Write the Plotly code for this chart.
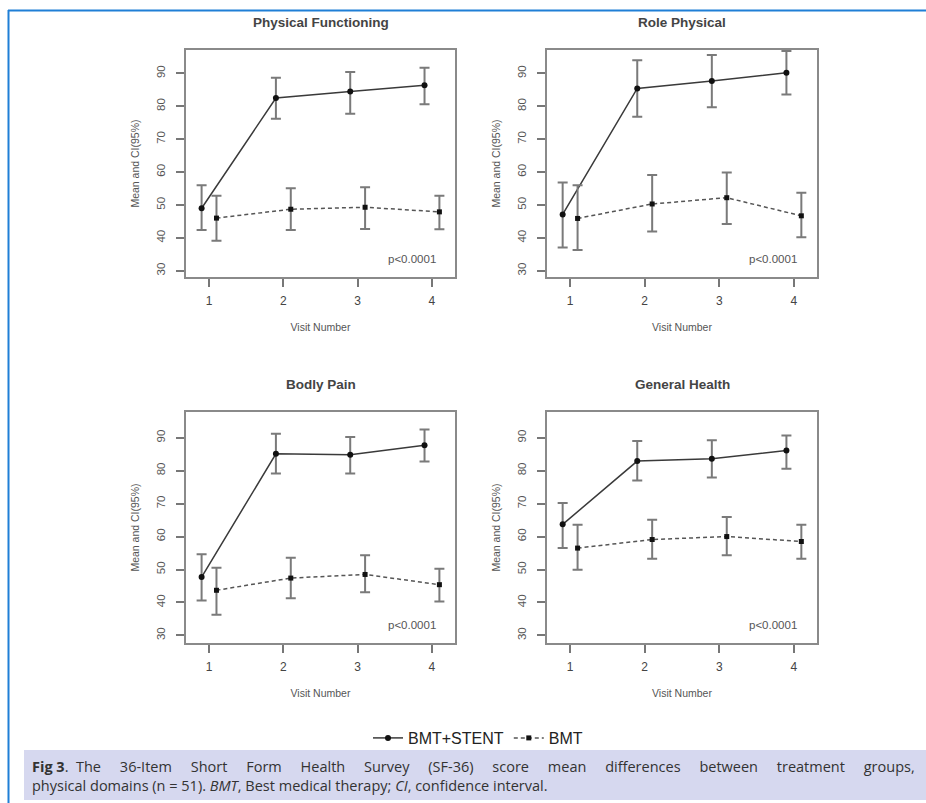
import plotly.graph_objects as go

W, H = 926, 803

visits = [1, 2, 3, 4]
panel_titles = ["Physical Functioning", "Role Physical", "Bodly Pain", "General Health"]
y_ticks = [30, 40, 50, 60, 70, 80, 90]
series_names = ["BMT+STENT", "BMT"]
p_label = "p<0.0001"

# Physical Functioning
pf_stent_mean = [49.0, 82.5, 84.5, 86.4]
pf_stent_lo = [42.4, 76.2, 77.7, 80.6]
pf_stent_hi = [56.0, 88.7, 90.4, 91.7]
pf_bmt_mean = [46.0, 48.7, 49.3, 47.9]
pf_bmt_lo = [39.1, 42.4, 42.7, 42.6]
pf_bmt_hi = [52.8, 55.1, 55.4, 52.8]

# Role Physical
rp_stent_mean = [47.1, 85.4, 87.7, 90.2]
rp_stent_lo = [37.1, 76.8, 79.7, 83.6]
rp_stent_hi = [56.8, 94.0, 95.6, 96.8]
rp_bmt_mean = [45.9, 50.3, 52.2, 46.7]
rp_bmt_lo = [36.3, 41.9, 44.2, 40.2]
rp_bmt_hi = [56.0, 59.1, 59.9, 53.7]

# Bodly Pain
bp_stent_mean = [47.7, 85.1, 84.8, 87.7]
bp_stent_lo = [40.6, 79.1, 79.1, 82.8]
bp_stent_hi = [54.6, 91.2, 90.2, 92.5]
bp_bmt_mean = [43.7, 47.4, 48.5, 45.4]
bp_bmt_lo = [36.3, 41.3, 43.1, 40.3]
bp_bmt_hi = [50.5, 53.6, 54.3, 50.2]

# General Health
gh_stent_mean = [63.7, 82.9, 83.6, 86.1]
gh_stent_lo = [56.5, 77.0, 77.9, 80.6]
gh_stent_hi = [70.2, 89.0, 89.2, 90.7]
gh_bmt_mean = [56.5, 59.1, 60.0, 58.5]
gh_bmt_lo = [49.9, 53.3, 54.3, 53.3]
gh_bmt_hi = [63.6, 65.1, 65.9, 63.6]

panels = [
    (pf_stent_mean, pf_stent_lo, pf_stent_hi, pf_bmt_mean, pf_bmt_lo, pf_bmt_hi),
    (rp_stent_mean, rp_stent_lo, rp_stent_hi, rp_bmt_mean, rp_bmt_lo, rp_bmt_hi),
    (bp_stent_mean, bp_stent_lo, bp_stent_hi, bp_bmt_mean, bp_bmt_lo, bp_bmt_hi),
    (gh_stent_mean, gh_stent_lo, gh_stent_hi, gh_bmt_mean, gh_bmt_lo, gh_bmt_hi),
]

FONT = "Liberation Sans, Arial, sans-serif"
CAP_FONT = "Open Sans, sans-serif"

def px(x):
    return x / W

def py(y):
    return 1 - y / H

# box geometry in pixels (left, right, top, bottom)
boxes = [
    (186, 455, 50, 277),
    (547, 817, 50, 277),
    (186, 455, 412, 643),
    (547, 817, 412, 643),
]
y_ranges = [[28.1, 97.1], [28.1, 97.1], [27.7, 97.8], [27.7, 97.8]]

fig = go.Figure()
layout = dict(
    width=W, height=H, margin=dict(l=0, r=0, t=0, b=0),
    paper_bgcolor="white", plot_bgcolor="white",
    font=dict(family=FONT, color="#333"),
    showlegend=True,
)
annotations = []
shapes = []

offset = 0.1
for i, (sm, slo, shi, bm, blo, bhi) in enumerate(panels):
    n = i + 1
    xa = "x" if n == 1 else f"x{n}"
    ya = "y" if n == 1 else f"y{n}"
    xs = [v - offset for v in visits]
    xb = [v + offset for v in visits]
    fig.add_trace(go.Scatter(
        x=xs, y=sm, xaxis=xa, yaxis=ya, mode="lines+markers",
        name=series_names[0], showlegend=(i == 0), legendrank=1,
        line=dict(color="#3a3a3a", width=1.5),
        marker=dict(color="#111", size=6, symbol="circle"),
        error_y=dict(type="data", symmetric=False,
                     array=[h - m for h, m in zip(shi, sm)],
                     arrayminus=[m - l for m, l in zip(sm, slo)],
                     color="#7a7a7a", thickness=2, width=5),
    ))
    fig.add_trace(go.Scatter(
        x=xb, y=bm, xaxis=xa, yaxis=ya, mode="lines+markers",
        name=series_names[1], showlegend=(i == 0), legendrank=2,
        line=dict(color="#555", width=1.5, dash="4px,3px"),
        marker=dict(color="#111", size=5, symbol="square"),
        error_y=dict(type="data", symmetric=False,
                     array=[h - m for h, m in zip(bhi, bm)],
                     arrayminus=[m - l for m, l in zip(bm, blo)],
                     color="#7a7a7a", thickness=2, width=5),
    ))
    l, r, t, b = boxes[i]
    xkey = "xaxis" if n == 1 else f"xaxis{n}"
    ykey = "yaxis" if n == 1 else f"yaxis{n}"
    layout[xkey] = dict(
        domain=[px(l), px(r)], anchor=ya, range=[0.69, 4.31],
        tickvals=visits, ticks="outside", ticklen=8, tickwidth=1.5, tickcolor="#777",
        showline=True, mirror=True, linecolor="#8a8a8a", linewidth=2,
        showgrid=False, zeroline=False, tickfont=dict(size=12, color="#444"),
        ticklabelstandoff=4,
        title=dict(text="Visit Number", font=dict(size=10.5, color="#555"), standoff=16),
    )
    layout[ykey] = dict(
        domain=[py(b), py(t)], anchor=xa, range=y_ranges[i],
        tickvals=y_ticks, ticks="outside", ticklen=8, tickwidth=1.5, tickcolor="#777",
        showline=True, mirror=True, linecolor="#8a8a8a", linewidth=2,
        showgrid=False, zeroline=False, tickangle=-90,
        tickfont=dict(size=11.5, color="#555"), ticklabelstandoff=6,
        title=dict(text="Mean and CI(95%)", font=dict(size=10.5, color="#555"), standoff=14),
    )
    annotations.append(dict(
        text="<b>" + panel_titles[i] + "</b>", xref="paper", yref="paper",
        x=px((l + r) / 2), y=py(t - 28), xanchor="center", yanchor="middle",
        showarrow=False, font=dict(size=13.5, color="#444", family=FONT),
    ))
    annotations.append(dict(
        text=p_label, xref=f"{xa} domain", yref=f"{ya} domain",
        x=0.935, y=0.08, xanchor="right", yanchor="middle",
        showarrow=False, font=dict(size=11.5, color="#555", family=FONT),
    ))

layout["legend"] = dict(
    orientation="h", x=px(478), y=py(738), xanchor="center", yanchor="middle",
    font=dict(size=16, color="#222", family=FONT), bgcolor="rgba(0,0,0,0)",
    itemwidth=30, tracegroupgap=0,
)

# blue frame lines
shapes.append(dict(type="line", xref="paper", yref="paper", x0=px(8), x1=1.0,
                   y0=py(10.5), y1=py(10.5), line=dict(color="#1f7fd6", width=2)))
shapes.append(dict(type="line", xref="paper", yref="paper", x0=px(8.5), x1=px(8.5),
                   y0=py(10), y1=0, line=dict(color="#1f7fd6", width=2)))
# caption background
shapes.append(dict(type="rect", xref="paper", yref="paper", x0=px(24), x1=1.0,
                   y0=py(800), y1=py(750), line=dict(width=0), fillcolor="#d6d8ef",
                   layer="below"))

gap = " " + "\u00a0" * 4
caption1_words = ["The", "36-Item", "Short", "Form", "Health", "Survey",
                  "(SF-36)", "score", "mean", "differences", "between", "treatment", "groups,"]
caption1 = "<b>Fig 3</b>.\u00a0 " + gap.join(caption1_words)
caption2 = ("physical domains (n = 51). <i>BMT</i>, Best medical therapy; "
            "<i>CI</i>, confidence interval.")
annotations.append(dict(text=caption1, xref="paper", yref="paper", x=px(30), y=py(766),
                        xanchor="left", yanchor="middle", showarrow=False,
                        font=dict(size=14.5, color="#333", family=CAP_FONT)))
annotations.append(dict(text=caption2, xref="paper", yref="paper", x=px(30), y=py(785),
                        xanchor="left", yanchor="middle", showarrow=False,
                        font=dict(size=14.5, color="#333", family=CAP_FONT)))

layout["annotations"] = annotations
layout["shapes"] = shapes
fig.update_layout(**layout)
fig.write_html("out.html")
